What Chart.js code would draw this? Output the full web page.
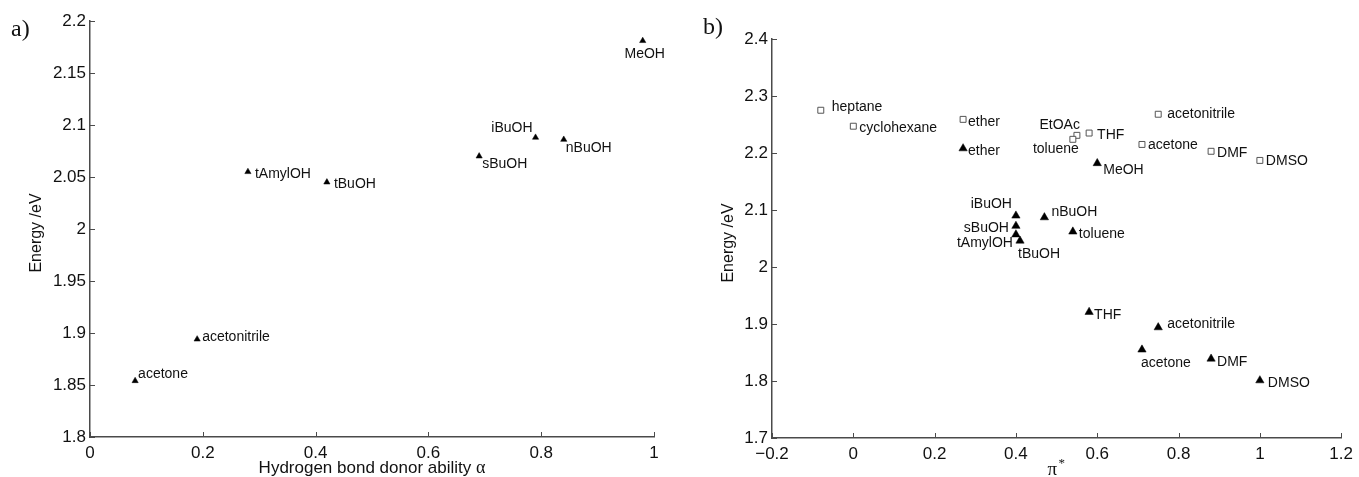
<!DOCTYPE html>
<html><head><meta charset="utf-8">
<script src="https://cdn.jsdelivr.net/npm/chart.js@4/dist/chart.umd.min.js"></script>
<style>
html,body{margin:0;padding:0;background:#fff;}
#wrap{position:relative;width:1359px;height:477px;overflow:hidden;background:#fff}
.pane{position:absolute;top:0;height:477px}
</style></head><body>
<div id="wrap">
<div class="pane" style="left:0;width:680px"><canvas id="ca" width="680" height="477"></canvas></div>
<div class="pane" style="left:680px;width:679px"><canvas id="cb" width="679" height="477"></canvas></div>
</div>
<script>
// ---- Panel a data ----
const aNames  = ['acetone','acetonitrile','tAmylOH','tBuOH','sBuOH','iBuOH','nBuOH','MeOH'];
const aAlpha  = [0.08, 0.19, 0.28, 0.42, 0.69, 0.79, 0.84, 0.98];
const aEnergy = [1.854, 1.894, 2.055, 2.045, 2.070, 2.088, 2.086, 2.181];
const aXTicks = [0, 0.2, 0.4, 0.6, 0.8, 1];
const aYTicks = [1.8, 1.85, 1.9, 1.95, 2, 2.05, 2.1, 2.15, 2.2];

// ---- Panel b data ----
const bSqNames  = ['heptane','cyclohexane','ether','EtOAc','toluene','THF','acetonitrile','acetone','DMF','DMSO'];
const bSqPi     = [-0.08, 0.00, 0.27, 0.55, 0.54, 0.58, 0.75, 0.71, 0.88, 1.00];
const bSqEnergy = [2.275, 2.247, 2.259, 2.231, 2.224, 2.235, 2.268, 2.215, 2.203, 2.187];
const bTriNames  = ['ether','iBuOH','sBuOH','tAmylOH','tBuOH','nBuOH','toluene','MeOH','THF','acetonitrile','acetone','DMF','DMSO'];
const bTriPi     = [0.27, 0.40, 0.40, 0.40, 0.41, 0.47, 0.54, 0.60, 0.58, 0.75, 0.71, 0.88, 1.00];
const bTriEnergy = [2.208, 2.090, 2.072, 2.057, 2.046, 2.087, 2.062, 2.182, 1.921, 1.894, 1.855, 1.839, 1.801];
const bXTicks = [-0.2, 0, 0.2, 0.4, 0.6, 0.8, 1, 1.2];
const bYTicks = [1.7, 1.8, 1.9, 2, 2.1, 2.2, 2.3, 2.4];

// ---- label placement (style only: pixel offsets and alignment) ----
const aLabelPos = [[3,-7,'left'],[5,-2,'left'],[7,2,'left'],[7,2,'left'],[3,8,'left'],[-3,-9,'right'],[2,9,'left'],[2,13,'center']];
const bSqLabelPos = [[11,-3,'left'],[6,2,'left'],[5,3,'left'],[3,-10,'right'],[6,10,'right'],[8,2,'left'],[9,0,'left'],[6,1,'left'],[6,2,'left'],[6,1,'left']];
const bTriLabelPos = [[5,3,'left'],[-4,-12,'right'],[-7,2,'right'],[-3,9,'right'],[-2,13,'left'],[7,-5,'left'],[6,2,'left'],[6,7,'left'],[5,3,'left'],[9,-3,'left'],[-1,13,'left'],[6,3,'left'],[8,3,'left']];

const AXIS = '#4a4a4a';
const TXT = '#111';
const SANS = '"Liberation Sans", Arial, Helvetica, sans-serif';
const SERIF = '"Liberation Serif", "Times New Roman", serif';

function fmt(v){ const s = String(+Math.abs(v).toFixed(2)); return v < 0 ? '\u2212' + s : s; }
function pts(xs, ys){ return xs.map((x,i)=>({x:x, y:ys[i]})); }

const decor = {
  id:'decor',
  afterDraw(chart, args, o){
    const ctx = chart.ctx, a = chart.chartArea, sx = chart.scales.x, sy = chart.scales.y;
    ctx.save();
    // inward tick marks
    ctx.strokeStyle = AXIS; ctx.lineWidth = 1;
    sx.ticks.forEach(t=>{ const p = Math.round(sx.getPixelForValue(t.value))+0.5; ctx.beginPath(); ctx.moveTo(p,a.bottom); ctx.lineTo(p,a.bottom-5); ctx.stroke(); });
    sy.ticks.forEach(t=>{ const p = Math.round(sy.getPixelForValue(t.value))+0.5; ctx.beginPath(); ctx.moveTo(a.left,p); ctx.lineTo(a.left+5,p); ctx.stroke(); });
    // point labels
    ctx.fillStyle = TXT; ctx.font = '14px ' + SANS; ctx.textBaseline = 'middle';
    o.sets.forEach(s=>{
      const meta = chart.getDatasetMeta(s.ds);
      meta.data.forEach((el,i)=>{
        const p = s.pos[i];
        ctx.textAlign = p[2];
        ctx.fillText(s.names[i], el.x + p[0], el.y + p[1]);
      });
    });
    // y title
    ctx.save();
    ctx.font = '16px ' + SANS; ctx.textAlign='center'; ctx.textBaseline='middle';
    ctx.translate(o.yTitle[0], o.yTitle[1]); ctx.rotate(-Math.PI/2);
    ctx.fillText('Energy /eV', 0, 0);
    ctx.restore();
    // x title
    ctx.textAlign='center'; ctx.textBaseline='middle';
    if (o.xTitle === 'alpha') {
      const t1 = 'Hydrogen bond donor ability ';
      ctx.font = '17px ' + SANS; const w1 = ctx.measureText(t1).width;
      ctx.font = '18px ' + SERIF; const w2 = ctx.measureText('\u03b1').width;
      const cx = (a.left+a.right)/2, x0 = cx - (w1+w2)/2, yy = 468;
      ctx.textAlign='left';
      ctx.font = '17px ' + SANS; ctx.fillText(t1, x0, yy);
      ctx.font = '18px ' + SERIF; ctx.fillText('\u03b1', x0 + w1, yy);
    } else {
      const cx = (a.left+a.right)/2, yy = 470;
      ctx.textAlign='left';
      ctx.font = '19px ' + SERIF; ctx.fillText('\u03c0', cx - 9, yy);
      ctx.font = '13px ' + SERIF; ctx.fillText('*', cx + 2, yy - 6);
    }
    // panel letter
    ctx.font = '24px ' + SERIF; ctx.textAlign='left'; ctx.textBaseline='middle';
    ctx.fillText(o.letter[0], o.letter[1], o.letter[2]);
    ctx.restore();
  }
};

function scaleOpts(min, max, ticks, fitKey, fitVal){
  return {
    type:'linear', min:min, max:max,
    afterBuildTicks: s => { s.ticks = ticks.map(v=>({value:v})); },
    afterFit: s => { s[fitKey] = fitVal; },
    ticks:{ callback: v => fmt(v), font:{family:SANS, size:17}, color:TXT, padding: fitKey==='height' ? 6 : 4, maxRotation:0, autoSkip:false },
    grid:{ display:true, drawOnChartArea:false, drawTicks:false },
    border:{ display:true, color:AXIS, width:1.5 }
  };
}

const common = { responsive:false, animation:false, events:[] };

new Chart(document.getElementById('ca'), {
  type:'scatter',
  data:{ datasets:[{ data: pts(aAlpha, aEnergy), pointStyle:'triangle', pointRadius:3.6, backgroundColor:'#000', borderColor:'#000', borderWidth:0.5 }] },
  options:Object.assign({}, common, {
    layout:{ padding:{ left:0, top:21, right:26, bottom:0 } },
    scales:{ x: scaleOpts(0, 1, aXTicks, 'height', 40), y: scaleOpts(1.8, 2.2, aYTicks, 'width', 90) },
    plugins:{ legend:{display:false}, tooltip:{enabled:false},
      decor:{ sets:[{ds:0, names:aNames, pos:aLabelPos}], yTitle:[37,233], xTitle:'alpha', letter:['a)',11,30] } }
  }),
  plugins:[decor]
});

new Chart(document.getElementById('cb'), {
  type:'scatter',
  data:{ datasets:[
    { data: pts(bSqPi, bSqEnergy), pointStyle:'rect', pointRadius:4.2, backgroundColor:'#fff', borderColor:'#555', borderWidth:1 },
    { data: pts(bTriPi, bTriEnergy), pointStyle:'triangle', pointRadius:4.8, backgroundColor:'#000', borderColor:'#000', borderWidth:0.5 }
  ] },
  options:Object.assign({}, common, {
    layout:{ padding:{ left:0, top:39, right:13, bottom:0 } },
    scales:{ x: scaleOpts(-0.2, 1.2, bXTicks, 'height', 39), y: scaleOpts(1.7, 2.4, bYTicks, 'width', 92) },
    plugins:{ legend:{display:false}, tooltip:{enabled:false},
      decor:{ sets:[{ds:0, names:bSqNames, pos:bSqLabelPos},{ds:1, names:bTriNames, pos:bTriLabelPos}], yTitle:[49,243], xTitle:'pi', letter:['b)',23,28] } }
  }),
  plugins:[decor]
});
</script>
</body></html>
